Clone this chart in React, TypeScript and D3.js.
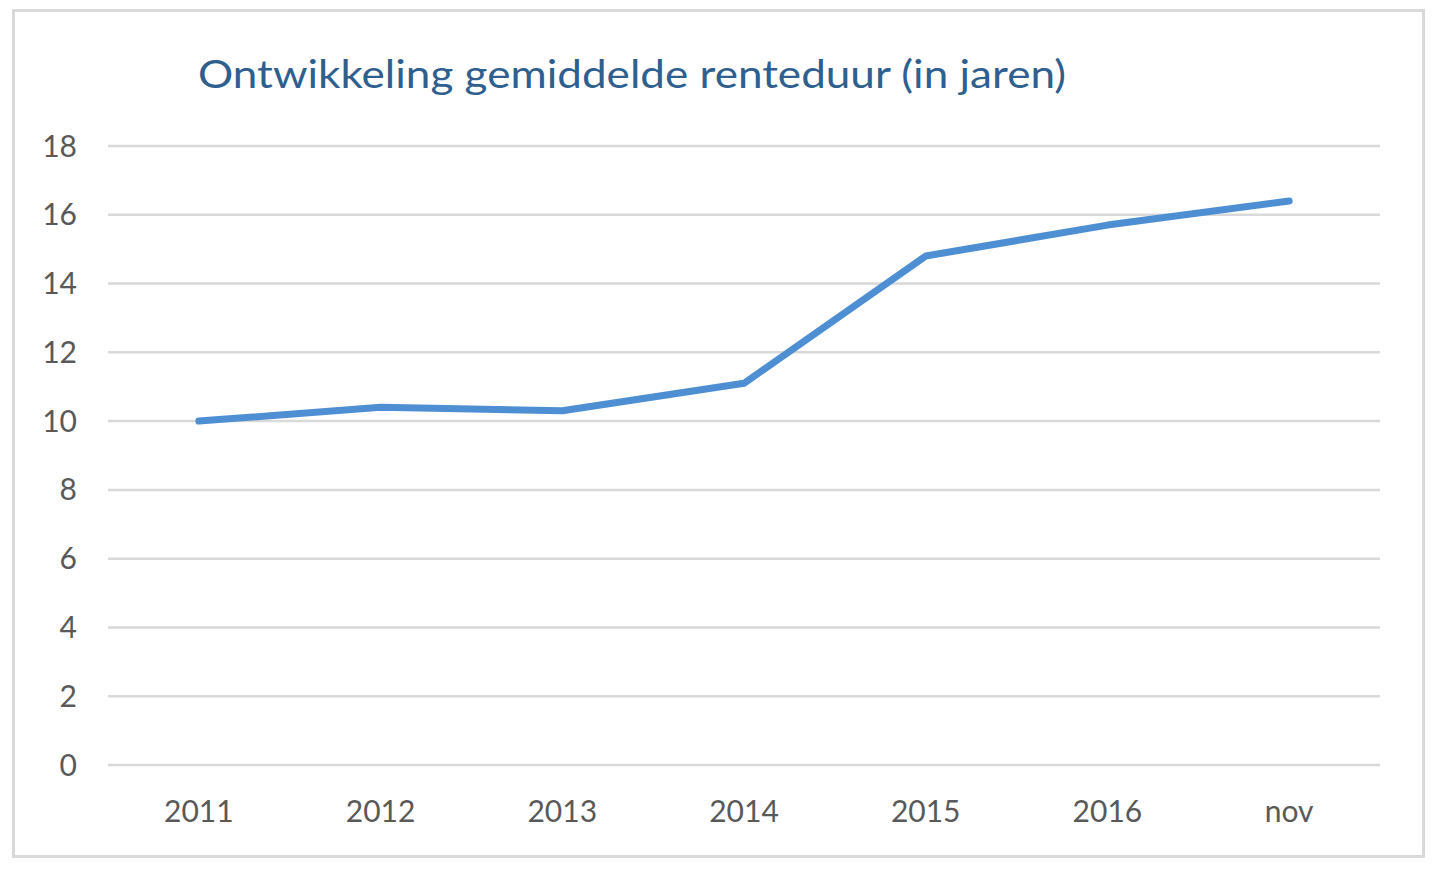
import React from "react";
import * as d3 from "d3";

const categories = ["2011", "2012", "2013", "2014", "2015", "2016", "nov"];
const values = [10.0, 10.4, 10.3, 11.1, 14.8, 15.7, 16.4];
const yTicks = [0, 2, 4, 6, 8, 10, 12, 14, 16, 18];
const title = "Ontwikkeling gemiddelde renteduur (in jaren)";

export default function App() {
  const W = 1440, H = 870;
  const left = 108, right = 1380, top = 146, bottom = 765;
  const x = d3.scaleBand<string>().domain(categories).range([left, right]);
  const y = d3.scaleLinear().domain([0, 18]).range([bottom, top]);
  const line = d3
    .line<number>()
    .x((_, i) => (x(categories[i]) as number) + x.bandwidth() / 2)
    .y((d) => y(d));
  const font = "Lato, 'Open Sans', sans-serif";
  return (
    <svg width={W} height={H} style={{ position: "absolute", left: 0, top: 0 }}>
      <rect x={0} y={0} width={W} height={H} fill="#fff" />
      <rect x={13.5} y={10.5} width={1410} height={846} fill="#fff" stroke="#d9d9d9" strokeWidth={3} />
      <text x={198} y={88} fontFamily={font} fontSize={38} fill="#2e5f8f" textLength={868} lengthAdjust="spacingAndGlyphs">
        {title}
      </text>
      {yTicks.map((t) => (
        <g key={t}>
          <line x1={left} x2={right} y1={y(t)} y2={y(t)} stroke="#d9d9d9" strokeWidth={2.5} />
          <text x={77} y={y(t)} dy="0.35em" textAnchor="end" fontFamily={font} fontSize={30} fill="#595959">
            {t}
          </text>
        </g>
      ))}
      {categories.map((c) => (
        <text key={c} x={(x(c) as number) + x.bandwidth() / 2} y={822} textAnchor="middle" fontFamily={font} fontSize={30} fill="#595959">
          {c}
        </text>
      ))}
      <path d={line(values) || ""} fill="none" stroke="#4e8fd3" strokeWidth={7} strokeLinecap="round" strokeLinejoin="round" />
    </svg>
  );
}
